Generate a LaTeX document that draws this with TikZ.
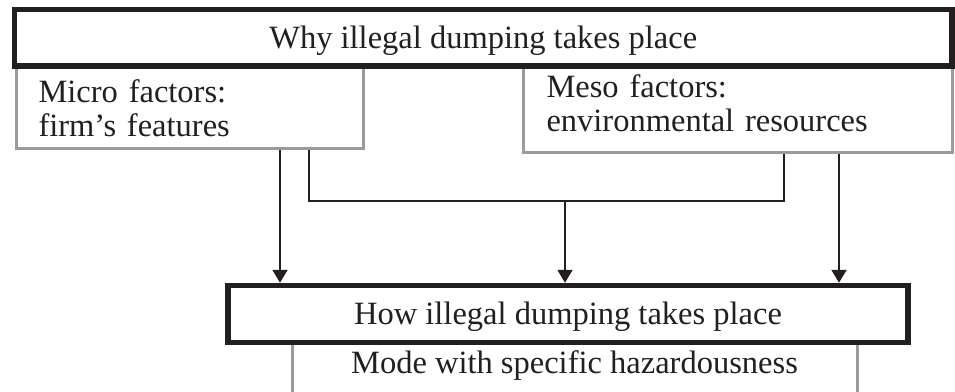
\documentclass[tikz,border=0pt]{standalone}
\usepackage{fontspec}
\setmainfont{Liberation Serif}
\usetikzlibrary{arrows.meta}
\usetikzlibrary{positioning}

\definecolor{ink}{RGB}{35,31,32}
\definecolor{framegray}{RGB}{155,155,155}

\tikzset{
	mainbox/.style={draw=ink, line width=5.5pt, fill=white, inner sep=0pt,
			text height=24pt, text depth=3pt},
	factorbox/.style={draw=framegray, line width=3pt, align=left, inner ysep=0pt},
	link/.style={draw=ink, line width=2.2pt},
	flow/.style={link, -{Triangle[width=15pt, length=13pt]}}
}

\begin{document}
\begin{tikzpicture}[x=1pt, y=-1pt, font=\fontsize{32.5}{34}\selectfont, text=ink]
				\useasboundingbox (0,0) rectangle (955,391);
				\clip (0,0) rectangle (955,391);

				% grey frames first, the black boxes cover their tops
				\node[factorbox, anchor=base west, inner xsep=22.5pt, text width=302pt,
					text height=62pt, text depth=46.5pt] (micro) at (14.5,102) {Micro factors:\\firm's features};
				\node[factorbox, anchor=base west, inner xsep=23.5pt, text width=382.5pt,
					text height=57pt, text depth=55pt] (meso) at (521.5,97) {Meso factors:\\environmental resources};
				\node[factorbox, anchor=base, minimum width=565pt, inner xsep=0pt,
					text height=43pt, text depth=60pt] (mode) at (574.5,373) {Mode with specific hazardousness};

				\node[mainbox, minimum width=937.5pt, minimum height=56.5pt] (why) at (483.25,37.75) {Why illegal dumping takes place};
				\node[mainbox, minimum width=680pt, minimum height=57pt] (how) at (568,314) {How illegal dumping takes place};

				\coordinate (microdrop) at (280,201);
				\coordinate (microfork) at (309,201);
				\coordinate (join) at (565,201);
				\coordinate (mesofork) at (784,201);
				\coordinate (mesodrop) at (839,201);

				\draw[flow] (micro.south -| microdrop) -- (how.north -| microdrop);
				\draw[link] (micro.south -| microfork) -- (microfork) -- (mesofork) -- (meso.south -| mesofork);
				\draw[flow] (join) -- (how.north -| join);
				\draw[flow] (meso.south -| mesodrop) -- (how.north -| mesodrop);
			\end{tikzpicture}
\end{document}
